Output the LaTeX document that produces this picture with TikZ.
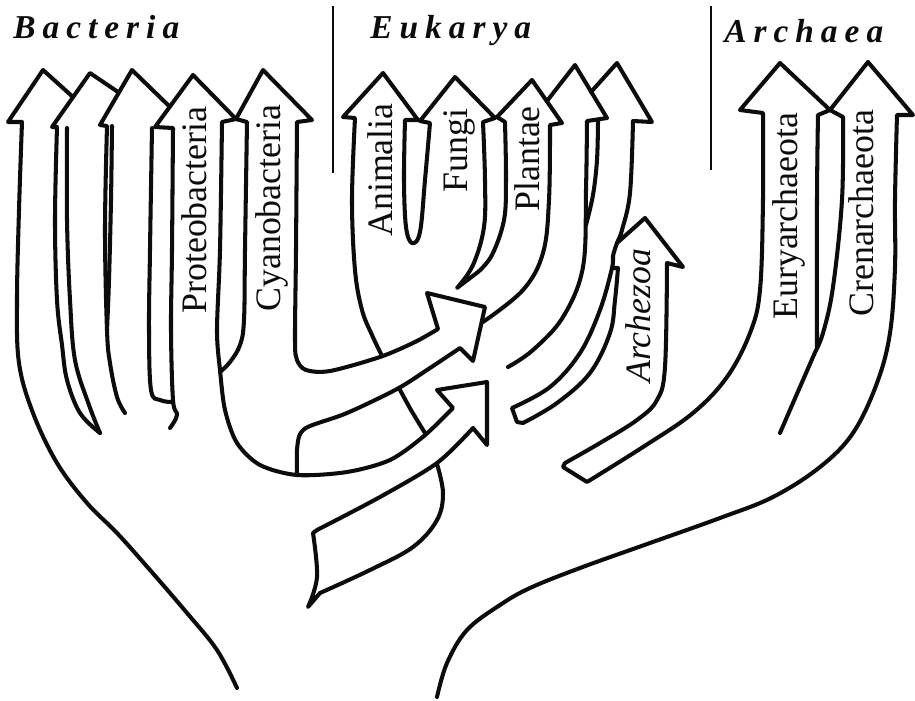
\documentclass[tikz,border=0pt]{standalone}
\usepackage{fontspec}
\setmainfont{Liberation Serif}
\newfontfamily\kingdomfont[LetterSpace=21]{Liberation Serif}
\usepackage{tikz}
\definecolor{inkBlack}{RGB}{12,12,12}

\begin{document}
\begin{tikzpicture}[x=0.02cm, y=-0.02cm,
    ink/.style={draw=inkBlack, line width=2.3pt, line cap=round, line join=round},
    sep/.style={draw=inkBlack, line width=1.1pt},
    kingdom/.style={anchor=base west, inner sep=0pt, text=inkBlack,
      font=\kingdomfont\bfseries\itshape\fontsize{19}{22}\selectfont},
    taxon/.style={anchor=base west, inner sep=0pt, rotate=90, text=inkBlack,
      font=\fontsize{20.4}{24}\selectfont}]
  % Page
  \fill[white] (0,0) rectangle (915,701);

  % Kingdom titles + separators
  \node[kingdom] (bacteria) at (13,38) {Bacteria};
  \node[kingdom] (eukarya) at (370,38) {Eukarya};
  \node[kingdom] (archaea) at (724,42) {Archaea};
  \draw[sep] (333,6) -- (333,173);
  \draw[sep] (711,6) -- (711,170);

  % Bacteria  first three arrows
  \draw[ink] (73,97) -- (43,70) -- (8,122) -- plot[smooth,tension=.6] coordinates {(22,122) (19,210) (17,300) (19,363) (33,413) (57,463) (87,503) (117,533) (150,570) (187,613) (217,650) (237,688)};
  \draw[ink] (118,92) -- (90,73) -- (52,127) -- plot[smooth,tension=.6] coordinates {(57,127) (55,220) (57,300) (62,345) (67,380) (80,413) (100,433)};
  \draw[ink] plot[smooth,tension=.6] coordinates {(67,128) (67,220) (70,300) (75,360) (89,405) (100,433)};
  \draw[ink] (169,106) -- (132,70) -- (100,125) -- plot[smooth,tension=.6] coordinates {(107,126) (105,230) (107,330) (110,363) (117,397) (125,413)};
  \draw[ink] plot[smooth,tension=.6] coordinates {(112,126) (111,200) (109,280) (107,330)};
  \draw[ink] plot[smooth,tension=.6] coordinates {(152,128) (150,250) (149,330) (151,390) (160,400) (172,402)};

  % Proteobacteria  stem turns into the lower arrow
  \draw[ink] (236,119) -- (193,75) -- (155,127) -- plot[smooth,tension=.6] coordinates {(173,128) (172,250) (171,330) (173,400) (177,415) (170,428)};
  \draw[ink] (236,119) -- plot[smooth,tension=.5] coordinates {(222,122) (220,250) (217,330) (220,370) (225,410) (237,443) (260,465) (297,475) (347,472) (390,460) (424,436) (453,408)}
    -- (437,390) -- (487,382) -- (487,445)
    -- plot[smooth,tension=.5] coordinates {(473,428) (437,463) (380,497) (317,530)}
    -- plot[smooth,tension=.6] coordinates {(313,533) (317,577) (308,607)}
    -- plot[smooth,tension=.6] coordinates {(320,593) (370,570) (413,547) (437,520) (443,493) (437,464)};

  % Cyanobacteria  stem turns into the upper arrow
  \draw[ink] (236,119) -- (263,70) -- (312,120) -- plot[smooth,tension=.5] coordinates {(297,122) (296,250) (295,340) (297,360) (306,370) (330,371) (380,357) (415,342) (438,329)}
    -- (427,293) -- (485,307) -- (473,361)
    -- plot[smooth,tension=.5] coordinates {(460,348) (430,368) (397,389) (347,413) (310,426) (300,434) (297,450) (297,473)};
  \draw[ink] (236,119) -- plot[smooth,tension=.6] coordinates {(247,122) (245,250) (244,320) (240,345) (230,362) (220,372)};

  % Eukarya  Animalia, Fungi, Plantae
  \draw[ink] plot[smooth,tension=.6] coordinates {(382,356) (372,335) (362,310) (355,270) (352,200) (355,118)}
    -- (343,117) -- (383,73) -- (418,120)
    -- plot[smooth,tension=.6] coordinates {(405,120) (404,180) (406,227) (412,243) (420,232) (425,180) (430,123)}
    -- (420,121) -- (455,77) -- (495,118)
    -- plot[smooth,tension=.6] coordinates {(483,122) (485,180) (484,227) (473,265) (457,288)}
    -- plot[smooth,tension=.6] coordinates {(478,272) (492,255) (504,220) (506,180) (505,122)}
    -- (497,117) -- (532,80) -- (562,123)
    -- plot[smooth,tension=.6] coordinates {(550,125) (549,200) (543,253) (523,290) (483,322)};
  \draw[ink] plot[smooth] coordinates {(399,388) (411,410) (425,433)};

  % Eukarya  two unnamed arrows
  \draw[ink] (547,101) -- (575,65) -- (607,118) -- plot[smooth,tension=.6] coordinates {(587,121) (586,190) (583,267) (563,317) (533,350) (508,367)};
  \draw[ink] plot[smooth,tension=.6] coordinates {(598,121) (597,160) (593,195) (586,225)};
  \draw[ink] (591,92) -- (617,63) -- (652,122) -- plot[smooth,tension=.6] coordinates {(633,121) (630,193) (622,230) (617,243) (613,256) (612,268) (600,310) (580,353) (550,387) (512,408)}
    -- (517,422) -- plot[smooth,tension=.6] coordinates {(523,423) (557,403) (590,373) (610,333) (615,300) (618,268)} -- (612,268);

  % Archezoa + Euryarchaeota
  \draw[ink] (617,243) -- (645,218) -- (683,267) -- plot[smooth,tension=.6] coordinates {(667,263) (665,367) (657,400) (637,420) (600,443) (565,463)}
    -- (563,467) -- plot[smooth,tension=.6] coordinates {(587,482) (643,447) (693,413) (727,377) (750,333) (760,290) (763,200) (763,113)}
    -- (740,110) -- (780,63) -- (830,110)
    -- plot[smooth,tension=.6] coordinates {(818,115) (817,200) (817,347)};

  % Crenarchaeota  outer edge runs down to the root
  \draw[ink] (830,110) -- (868,62) -- (913,115) -- plot[smooth,tension=.6] coordinates {(897,115) (895,200) (895,267) (890,333) (877,383) (853,433) (820,467) (773,497) (720,518) (650,543) (580,568) (530,588) (500,605) (467,630) (447,663) (437,697)};
  \draw[ink] (830,110) -- plot[smooth,tension=.6] coordinates {(843,117) (842,200) (833,287) (823,333) (813,357) (793,403) (780,433)};

  % Taxon labels
  \foreach \name/\bx/\by/\txt in {proteo/207/314/Proteobacteria, cyano/280/312/Cyanobacteria,
      animalia/393/237/Animalia, fungi/467/193/Fungi, plantae/540/212/Plantae,
      eury/798/320/Euryarchaeota, cren/873/317/Crenarchaeota}
    \node[taxon] (\name) at (\bx,\by) {\txt};
  \node[taxon, font=\itshape\fontsize{20.4}{24}\selectfont] (archezoa) at (650,383) {Archezoa};
\end{tikzpicture}
\end{document}
